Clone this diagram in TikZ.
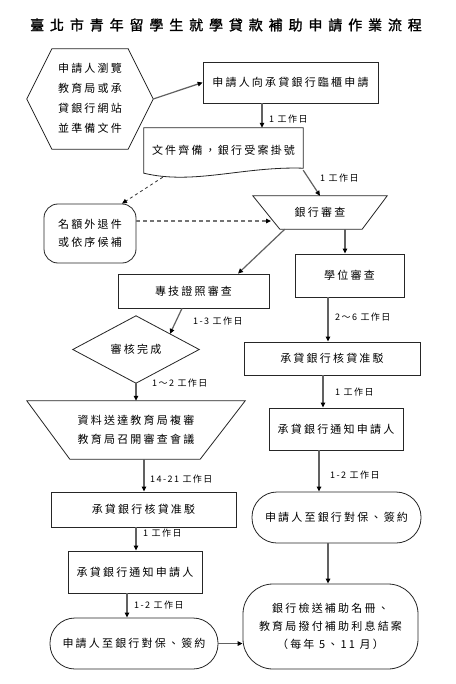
\documentclass[tikz,border=0pt]{standalone}
\usepackage{fontspec}
\setmainfont{Noto Sans CJK TC}
\newfontfamily\boxfont[LetterSpace=20]{Noto Sans CJK TC}
\newfontfamily\titlefont[LetterSpace=42,FakeBold=1.5]{Noto Sans CJK TC}
\newfontfamily\lblfont[LetterSpace=16]{Noto Sans CJK TC}
\usetikzlibrary{arrows.meta,calc}
\tikzset{
  txt/.style={font=\boxfont\fontsize{11}{20}\selectfont, align=center, inner sep=0pt},
  frame/.style={draw=black!85, line width=0.8pt},
  box/.style={frame, txt, rectangle},
  holder/.style={txt, rectangle},
  arr/.style={draw=black!62, line width=1.2pt, -{Triangle[length=5pt,width=4.5pt,color=black]}},
  dline/.style={draw=black!80, line width=0.8pt, dashed, -{Triangle[length=5pt,width=4.5pt,color=black]}},
  dline2/.style={draw=black!55, line width=1.2pt, dash pattern=on 4pt off 3pt, -{Triangle[length=5pt,width=4.5pt,color=black]}},
  lbl/.style={font=\lblfont\fontsize{9}{10}\selectfont, anchor=west, inner sep=0pt},
}
\begin{document}
\begin{tikzpicture}[x=1pt,y=-1pt]
\useasboundingbox[fill=white] (0,0) rectangle (455,684);

% title
\node[inner sep=0pt, font=\titlefont\fontsize{14}{16}\selectfont] (title) at (226,25) {臺北市青年留學生就學貸款補助申請作業流程};

% hexagon
\node[holder, minimum width=126pt, minimum height=100pt, font=\boxfont\fontsize{11}{20}\selectfont] (hex) at (90,98) {申請人瀏覽\\教育局或承\\貸銀行網站\\並準備文件};
\draw[frame] ($(hex.west)+(0,1)$) -- ($(hex.north west)+(25,1)$) -- ($(hex.north east)+(-25,1)$) -- ($(hex.east)+(0,1)$) -- ($(hex.south east)+(-25,1)$) -- ($(hex.south west)+(25,1)$) -- cycle;

% box 1
\node[box, minimum width=175pt, minimum height=41pt] (b1) at (290.5,82.5) {申請人向承貸銀行臨櫃申請};

% document
\node[holder, minimum width=159pt, minimum height=45pt] (doc) at (223.5,150.5) {文件齊備，銀行受案掛號};
\draw[frame] (doc.north west) -- (doc.north east) -- ($(doc.south east)+(0,-5)$) .. controls ($(doc.south east)+(-60,-7)$) and ($(doc.south west)+(50,12)$) .. (doc.south west) -- cycle;

% bank review trapezoid
\node[holder, minimum width=134pt, minimum height=33pt] (bank) at (320,212.5) {銀行審查};
\draw[frame] (bank.north west) -- (bank.north east) -- ($(bank.south east)+(-25,0)$) -- ($(bank.south west)+(27,0)$) -- cycle;

% rejected
\node[box, rounded corners=14pt, minimum width=92pt, minimum height=59pt, font=\boxfont\fontsize{11}{18}\selectfont] (rej) at (90,233.5) {名額外退件\\或依序候補};

% tech review
\node[box, minimum width=151pt, minimum height=34pt] (tech) at (193.5,291) {專技證照審查};
% degree review
\node[box, minimum width=109pt, minimum height=43pt] (deg) at (349.5,275.5) {學位審查};

% diamond
\node[holder, minimum width=126pt, minimum height=67pt] (dia) at (136,349.5) {審核完成};
\draw[frame] (dia.north) -- (dia.east) -- (dia.south) -- (dia.west) -- cycle;

% inverted trapezoid
\node[holder, minimum width=218pt, minimum height=58pt, font=\boxfont\fontsize{11}{19}\selectfont] (rev) at (136,430) {資料送達教育局複審\\教育局召開審查會議};
\draw[frame] (rev.north west) -- (rev.north east) -- ($(rev.south east)+(-45,0)$) -- ($(rev.south west)+(43,0)$) -- cycle;

% left column
\node[box, minimum width=185pt, minimum height=35pt] (lk) at (143.5,509.5) {承貸銀行核貸准駁};
\node[box, minimum width=134pt, minimum height=42pt] (ln) at (135,572) {承貸銀行通知申請人};
\node[box, rounded corners=25pt, minimum width=168pt, minimum height=51pt] (ls) at (134,643.5) {申請人至銀行對保、簽約};

% right column
\node[box, minimum width=176pt, minimum height=33pt] (rk) at (332,358.5) {承貸銀行核貸准駁};
\node[box, minimum width=134pt, minimum height=42pt] (rn) at (336,429) {承貸銀行通知申請人};
\node[box, rounded corners=25pt, minimum width=169pt, minimum height=51pt] (rs) at (336.5,517.5) {申請人至銀行對保、簽約};
\node[box, rounded corners=30pt, minimum width=175pt, minimum height=85pt, font=\boxfont\fontsize{11}{18}\selectfont] (fin) at (330.5,626.5) {銀行檢送補助名冊、\\教育局撥付補助利息結案\\（每年 5、11 月）};

% connectors
\draw[arr] ($(hex.east)+(0,1)$) -- (b1.west);
\draw[arr] ($(b1.south)+(-28.5,0)$) -- ($(doc.north)+(38.5,0)$);
\node[lbl] (l1) at (269,119) {1 工作日};
\draw[arr] ($(doc.south east)+(0,-3)$) -- (bank.north);
\node[lbl] (l2) at (320,178) {1 工作日};
\draw[dline] ($(doc.south west)+(19,4)$) -- ($(rej.north)+(32,0)$);
\draw[dline2] ($(rej.east)+(0,-12.5)$) -- (271,221);
\draw[arr] ($(bank.south west)+(32,0)$) -- ($(tech.north)+(44.5,0)$);
\draw[arr] ($(bank.south)+(25,0)$) -- ($(deg.north)+(-4.5,0)$);
\draw[arr] ($(tech.south)+(-11.5,0)$) -- ($(dia.north)+(34,18)$);
\node[lbl] (l3) at (193,321) {1-3 工作日};
\draw[arr] (dia.south) -- (dia.south |- rev.north);
\node[lbl] (l4) at (152,383) {1～2 工作日};
\draw[arr] ($(rev.south)+(8,0)$) -- ($(lk.north)+(0.5,0)$);
\node[lbl] (l5) at (150,479) {14-21 工作日};
\draw[arr] ($(lk.south)+(-7.5,0)$) -- ($(ln.north)+(1,0)$);
\node[lbl] (l6) at (143,533) {1 工作日};
\draw[arr] ($(ln.south)+(-8,0)$) -- ($(ls.north)+(-7,0)$);
\node[lbl] (l7) at (134,605) {1-2 工作日};
\draw[arr] (ls.east) -- (ls.east -| fin.west);
\draw[arr] ($(deg.south)+(-21.5,0)$) -- ($(rk.north)+(-4,0)$);
\node[lbl] (l8) at (335,317) {2～6 工作日};
\draw[arr] ($(rk.south)+(-9,0)$) -- ($(rn.north)+(-13,0)$);
\node[lbl] (l9) at (335,392) {1 工作日};
\draw[arr] ($(rn.south)+(-17,0)$) -- ($(rs.north)+(-17.5,0)$);
\node[lbl] (l10) at (330,475) {1-2 工作日};
\draw[arr] ($(rs.south)+(-8.5,0)$) -- ($(fin.north)+(-2.5,0)$);
\end{tikzpicture}
\end{document}
